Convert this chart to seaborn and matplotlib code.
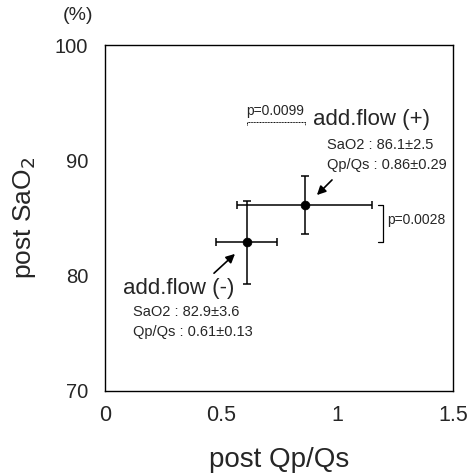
import matplotlib
matplotlib.use("Agg")
import matplotlib.pyplot as plt
import seaborn as sns
import pandas as pd

groups = ["add.flow (-)", "add.flow (+)"]
qpqs_mean = [0.61, 0.86]
qpqs_sd = [0.13, 0.29]
sao2_mean = [82.9, 86.1]
sao2_sd = [3.6, 2.5]
x_ticks = [0, 0.5, 1, 1.5]
x_tick_labels = ["0", "0.5", "1", "1.5"]
y_ticks = [70, 80, 90, 100]
y_tick_labels = ["70", "80", "90", "100"]
p_qpqs = "p=0.0099"
p_sao2 = "p=0.0028"

df = pd.DataFrame({"group": groups, "qpqs": qpqs_mean, "sao2": sao2_mean,
                   "qpqs_sd": qpqs_sd, "sao2_sd": sao2_sd})

sns.set_style("white")
plt.rcParams['font.family'] = ['Liberation Sans', 'DejaVu Sans']

fig = plt.figure(figsize=(4.67, 4.75), dpi=100)
ax = fig.add_axes([105/467, 1-391/475, (453-105)/467, (391-45)/475])

ax.errorbar(df["qpqs"], df["sao2"], xerr=df["qpqs_sd"], yerr=df["sao2_sd"],
            fmt="none", ecolor="black", elinewidth=1.1, capsize=3, capthick=1.1, zorder=2)
sns.scatterplot(data=df, x="qpqs", y="sao2", color="black", s=40, edgecolor="black",
                ax=ax, zorder=3, legend=False)

ax.set_xlim(0, 1.5)
ax.set_ylim(70, 100)
ax.set_xticks(x_ticks)
ax.set_xticklabels(x_tick_labels, fontsize=15.5)
ax.set_yticks(y_ticks)
ax.set_yticklabels(y_tick_labels, fontsize=14.5)
ax.set_yticks([75, 85, 95], minor=True)
ax.tick_params(axis="both", which="both", direction="in", length=3, width=0.8, color="black")
ax.tick_params(axis="x", pad=10)
ax.tick_params(axis="y", pad=12)
for s in ax.spines.values():
    s.set_color("black")
    s.set_linewidth(1.0)

ax.set_xlabel("post Qp/Qs", fontsize=20, labelpad=15)
ax.set_ylabel("post SaO$_2$", fontsize=19, labelpad=12)
fig.text(78/467, 1-15/475, "(%)", fontsize=14, ha="center", va="center")

# bracket for Qp/Qs
yb = 93.3
ax.plot([qpqs_mean[0], qpqs_mean[0], qpqs_mean[1], qpqs_mean[1]],
        [yb - 0.25, yb, yb, yb - 0.25], color="black", lw=0.7, ls=(0, (1, 0.6)))
ax.text((qpqs_mean[0] + qpqs_mean[1]) / 2, 93.7, p_qpqs, fontsize=10, ha="center", va="bottom")

# bracket for SaO2
xb = 1.198
ax.plot([xb - 0.02, xb, xb, xb - 0.02],
        [sao2_mean[1], sao2_mean[1], sao2_mean[0], sao2_mean[0]], color="black", lw=0.9)
ax.text(1.216, 84.8, p_sao2, fontsize=10, ha="left", va="center")

# labels for groups
ax.text(0.897, 93.5, groups[1], fontsize=16, ha="left", va="center")
ax.text(0.957, 91.33, "SaO2 : %.1f\u00b1%.1f" % (sao2_mean[1], sao2_sd[1]), fontsize=10.5, ha="left", va="center")
ax.text(0.957, 89.6, "Qp/Qs : %.2f\u00b1%.2f" % (qpqs_mean[1], qpqs_sd[1]), fontsize=10.5, ha="left", va="center")
ax.annotate("", xy=(0.905, 86.82), xytext=(0.987, 88.47),
            arrowprops=dict(arrowstyle="-|>", color="black", lw=1.2, mutation_scale=13))

ax.text(0.078, 78.92, groups[0], fontsize=16, ha="left", va="center")
ax.text(0.121, 76.84, "SaO2 : %.1f\u00b1%.1f" % (sao2_mean[0], sao2_sd[0]), fontsize=10.5, ha="left", va="center")
ax.text(0.121, 75.1, "Qp/Qs : %.2f\u00b1%.2f" % (qpqs_mean[0], qpqs_sd[0]), fontsize=10.5, ha="left", va="center")
ax.annotate("", xy=(0.569, 82.05), xytext=(0.461, 80.05),
            arrowprops=dict(arrowstyle="-|>", color="black", lw=1.2, mutation_scale=13))

fig.savefig("out.png", dpi=100)
